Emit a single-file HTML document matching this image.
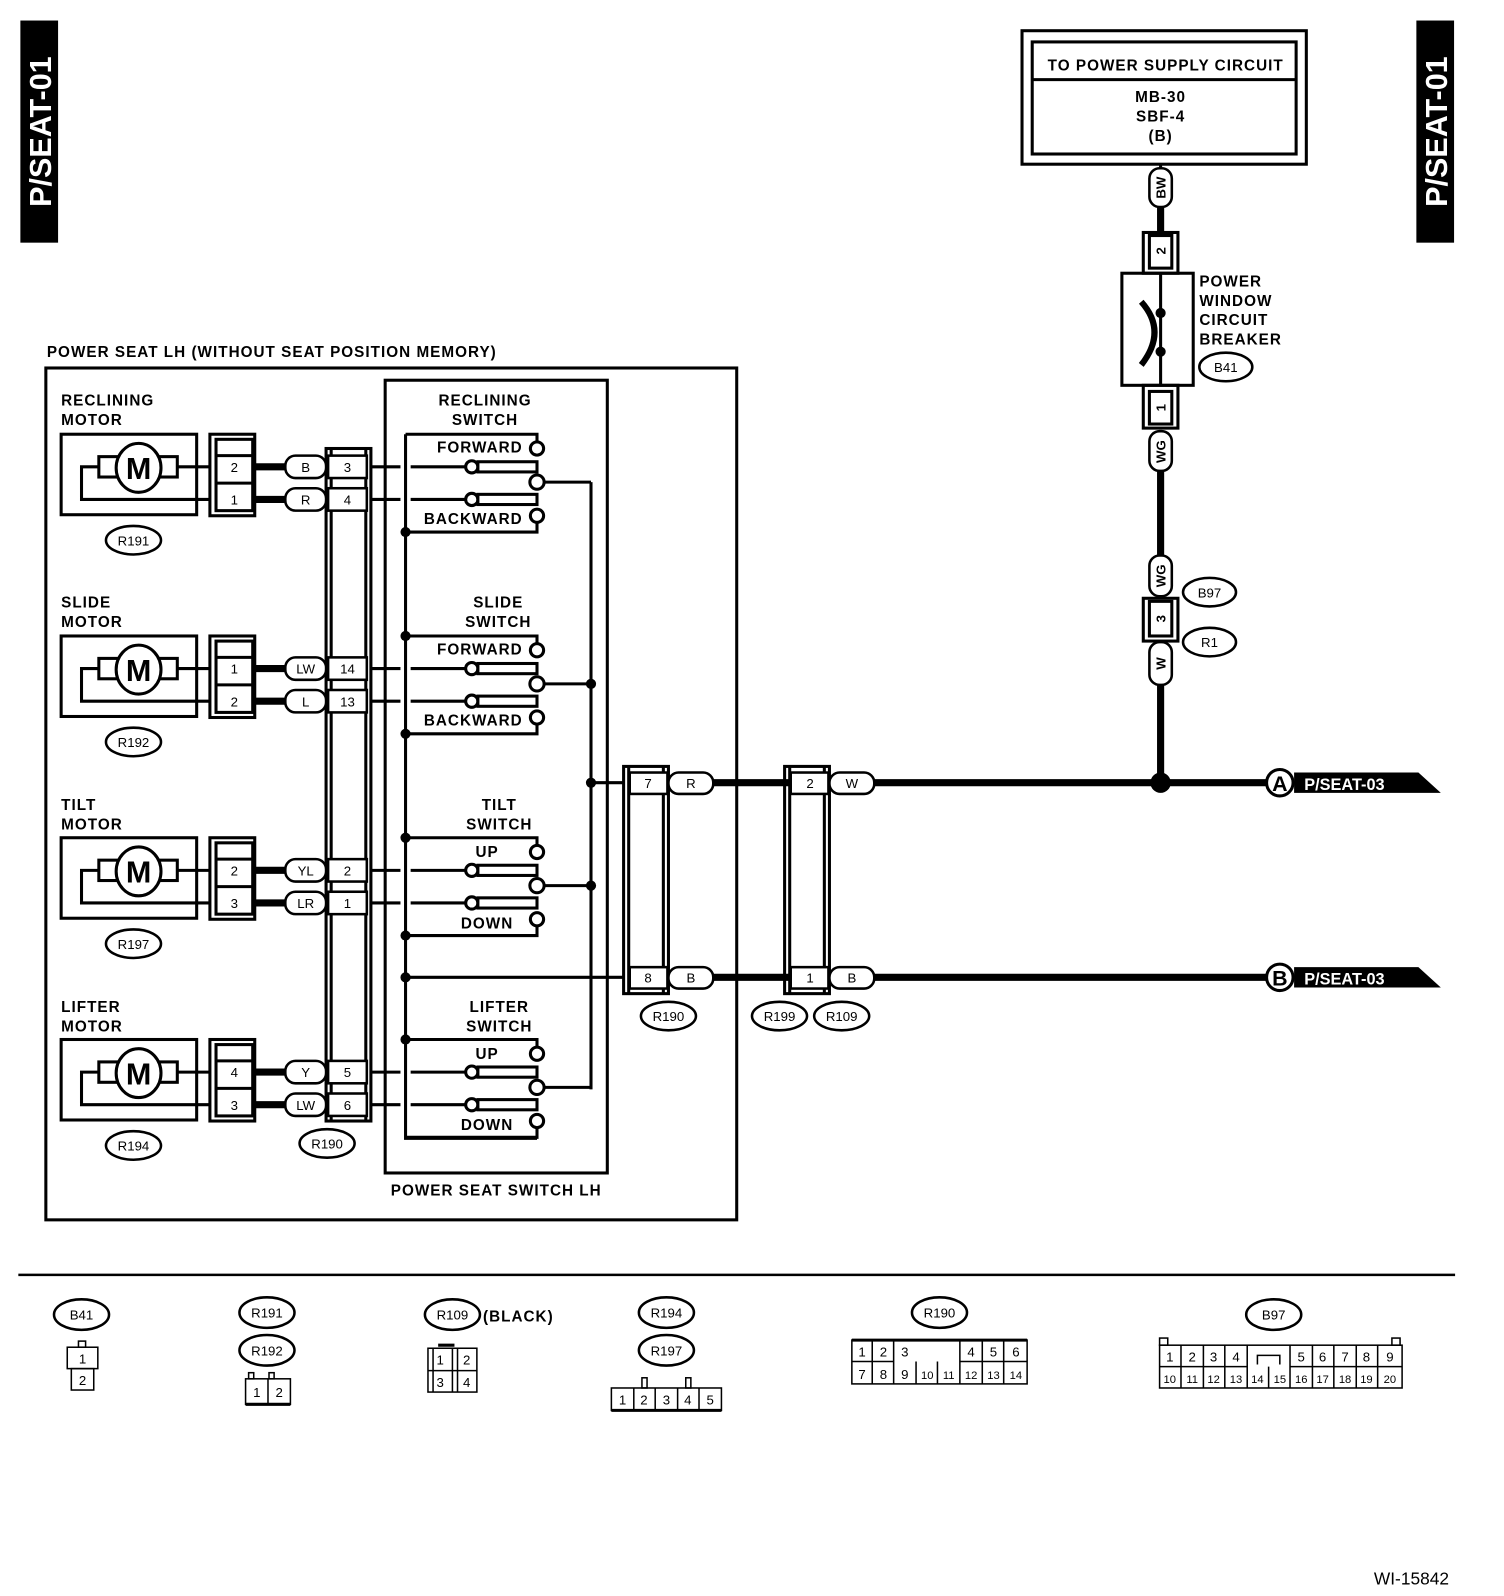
<!DOCTYPE html>
<html><head><meta charset="utf-8"><style>
html,body{margin:0;padding:0;background:#fff}
svg{display:block}
text{font-family:"Liberation Sans",sans-serif;font-weight:bold;font-size:15px;fill:#000;letter-spacing:1px}
text.s{font-size:13px;font-weight:normal;letter-spacing:0}
text.m{font-size:30px;letter-spacing:0}
text.t{font-size:11px;font-weight:normal;letter-spacing:0}
</style></head><body>
<svg width="1504" height="1596" viewBox="0 0 1476 1566" xmlns="http://www.w3.org/2000/svg">
<defs>
<g id="sw" fill="none" stroke="#000" stroke-width="3">
<path d="M398,426 H527 V433"/>
<circle cx="527" cy="440" r="6.5" fill="#fff"/>
<path d="M365,458 H393 M403,458 H457"/>
<circle cx="463" cy="458" r="6" fill="#fff"/>
<rect x="469" y="453" width="58" height="10" fill="#fff"/>
<circle cx="527" cy="473" r="7" fill="#fff"/>
<path d="M534,473 H580"/>
<path d="M365,490 H393 M403,490 H457"/>
<circle cx="463" cy="490" r="6" fill="#fff"/>
<rect x="469" y="485" width="58" height="10" fill="#fff"/>
<circle cx="527" cy="506" r="6.5" fill="#fff"/>
<path d="M527,513 V522 H398"/>
</g>
<g id="mot" fill="none" stroke="#000" stroke-width="3">
<rect x="60" y="426" width="133" height="79"/>
<rect x="97" y="448" width="20" height="20"/>
<rect x="156" y="448" width="18" height="20"/>
<path d="M174,458 H207 M97,458 H80 V490 H207"/>
<ellipse cx="136" cy="459" rx="22" ry="24" fill="#fff"/>
<rect x="206" y="426" width="44" height="80"/>
<rect x="212" y="431" width="36" height="70"/>
<path d="M212,447 H248 M212,474 H248"/>
<path d="M250,458 H282 M250,490 H282" stroke-width="7"/>
<rect x="280" y="447" width="40" height="22" rx="10" fill="#fff" stroke-width="2.5"/>
<rect x="280" y="479" width="40" height="22" rx="10" fill="#fff" stroke-width="2.5"/>
<rect x="322" y="447" width="38" height="22" fill="#fff" stroke-width="2.5"/>
<rect x="322" y="479" width="38" height="22" fill="#fff" stroke-width="2.5"/>
</g>
</defs>

<rect x="20" y="20" width="37" height="218" fill="#000"/>
<text transform="translate(50,129) rotate(-90)" text-anchor="middle" style="font-size:30px;fill:#fff;letter-spacing:0">P/SEAT-01</text>
<rect x="1390" y="20" width="37" height="218" fill="#000"/>
<text transform="translate(1420,129) rotate(-90)" text-anchor="middle" style="font-size:30px;fill:#fff;letter-spacing:0">P/SEAT-01</text>

<g fill="none" stroke="#000" stroke-width="3">
<rect x="1003" y="30" width="279" height="131"/>
<rect x="1013" y="41" width="259" height="110"/>
<path d="M1013,78 H1272"/>
</g>
<text x="1144" y="69" text-anchor="middle">TO POWER SUPPLY CIRCUIT</text>
<text x="1139" y="100" text-anchor="middle">MB-30</text>
<text x="1139" y="119" text-anchor="middle">SBF-4</text>
<text x="1139" y="138" text-anchor="middle">(B)</text>

<g fill="none" stroke="#000" stroke-width="3">
<path d="M1139,161 V166"/>
<rect x="1128" y="165" width="22" height="38" rx="10" fill="#fff" stroke-width="2.5"/>
<path d="M1139,203 V228" stroke-width="7"/>
<rect x="1122" y="228" width="34" height="40"/>
<rect x="1128" y="231" width="22" height="32"/>
<rect x="1101" y="268" width="70" height="110"/>
<path d="M1139,268 V378"/>
<rect x="1122" y="378" width="34" height="42"/>
<rect x="1128" y="384" width="22" height="32"/>
<rect x="1128" y="423" width="22" height="39" rx="10" fill="#fff" stroke-width="2.5"/>
<path d="M1139,462 V545" stroke-width="7"/>
<rect x="1128" y="545" width="22" height="40" rx="10" fill="#fff" stroke-width="2.5"/>
<rect x="1122" y="587" width="34" height="42"/>
<rect x="1128" y="590" width="22" height="34"/>
<rect x="1128" y="630" width="22" height="42" rx="10" fill="#fff" stroke-width="2.5"/>
<path d="M1139,672 V768" stroke-width="7"/>
</g>
<path d="M1120,296 Q1146,325 1120,358" fill="none" stroke="#000" stroke-width="6"/>
<circle cx="1139" cy="307" r="5"/><circle cx="1139" cy="345" r="5"/>
<text transform="translate(1144,184) rotate(-90)" text-anchor="middle" style="font-size:13px;letter-spacing:0">BW</text>
<text transform="translate(1144,246) rotate(-90)" text-anchor="middle" style="font-size:13px;letter-spacing:0">2</text>
<text transform="translate(1144,400) rotate(-90)" text-anchor="middle" style="font-size:13px;letter-spacing:0">1</text>
<text transform="translate(1144,443) rotate(-90)" text-anchor="middle" style="font-size:13px;letter-spacing:0">WG</text>
<text transform="translate(1144,565) rotate(-90)" text-anchor="middle" style="font-size:13px;letter-spacing:0">WG</text>
<text transform="translate(1144,607) rotate(-90)" text-anchor="middle" style="font-size:13px;letter-spacing:0">3</text>
<text transform="translate(1144,651) rotate(-90)" text-anchor="middle" style="font-size:13px;letter-spacing:0">W</text>
<text x="1177" y="281">POWER</text>
<text x="1177" y="300">WINDOW</text>
<text x="1177" y="319">CIRCUIT</text>
<text x="1177" y="338">BREAKER</text>
<g fill="#fff" stroke="#000" stroke-width="2.5">
<ellipse cx="1203" cy="360" rx="26" ry="14"/>
<ellipse cx="1187" cy="581" rx="26" ry="14"/>
<ellipse cx="1187" cy="630" rx="26" ry="14"/>
</g>
<text x="1203" y="365" text-anchor="middle" class="s">B41</text>
<text x="1187" y="586" text-anchor="middle" class="s">B97</text>
<text x="1187" y="635" text-anchor="middle" class="s">R1</text>

<text x="46" y="350">POWER SEAT LH (WITHOUT SEAT POSITION MEMORY)</text>
<g fill="none" stroke="#000" stroke-width="3">
<rect x="45" y="361" width="678" height="836"/>
<rect x="378" y="373" width="218" height="778"/>
<rect x="320" y="440" width="44" height="660"/>
<path d="M325,440 V1100 M359,440 V1100"/>
<path d="M398,426 V1117 H527 M580,473 V1069 M580,768 H612 M398,959 H612"/>
</g>
<text x="487" y="1173" text-anchor="middle">POWER SEAT SWITCH LH</text>

<use href="#sw"/>
<use href="#sw" transform="translate(0,198)"/>
<use href="#sw" transform="translate(0,396)"/>
<use href="#sw" transform="translate(0,594)"/>
<use href="#mot"/>
<use href="#mot" transform="translate(0,198)"/>
<use href="#mot" transform="translate(0,396)"/>
<use href="#mot" transform="translate(0,594)"/>

<g>
<circle cx="398" cy="522" r="5"/><circle cx="398" cy="624" r="5"/><circle cx="398" cy="720" r="5"/>
<circle cx="398" cy="822" r="5"/><circle cx="398" cy="918" r="5"/><circle cx="398" cy="959" r="5"/>
<circle cx="398" cy="1020" r="5"/>
<circle cx="580" cy="671" r="5"/><circle cx="580" cy="768" r="5"/><circle cx="580" cy="869" r="5"/>
</g>

<text x="476" y="398" text-anchor="middle">RECLINING</text><text x="476" y="417" text-anchor="middle">SWITCH</text>
<text x="513" y="444" text-anchor="end">FORWARD</text><text x="513" y="514" text-anchor="end">BACKWARD</text>
<text x="489" y="596" text-anchor="middle">SLIDE</text><text x="489" y="615" text-anchor="middle">SWITCH</text>
<text x="513" y="642" text-anchor="end">FORWARD</text><text x="513" y="712" text-anchor="end">BACKWARD</text>
<text x="490" y="795" text-anchor="middle">TILT</text><text x="490" y="814" text-anchor="middle">SWITCH</text>
<text x="478" y="841" text-anchor="middle">UP</text><text x="478" y="911" text-anchor="middle">DOWN</text>
<text x="490" y="993" text-anchor="middle">LIFTER</text><text x="490" y="1012" text-anchor="middle">SWITCH</text>
<text x="478" y="1039" text-anchor="middle">UP</text><text x="478" y="1109" text-anchor="middle">DOWN</text>

<text x="60" y="398">RECLINING</text><text x="60" y="417">MOTOR</text>
<text x="60" y="596">SLIDE</text><text x="60" y="615">MOTOR</text>
<text x="60" y="795">TILT</text><text x="60" y="814">MOTOR</text>
<text x="60" y="993">LIFTER</text><text x="60" y="1012">MOTOR</text>
<text x="136" y="470" text-anchor="middle" class="m">M</text>
<text x="136" y="668" text-anchor="middle" class="m">M</text>
<text x="136" y="866" text-anchor="middle" class="m">M</text>
<text x="136" y="1064" text-anchor="middle" class="m">M</text>
<g text-anchor="middle">
<text x="230" y="463" class="s">2</text><text x="230" y="495" class="s">1</text>
<text x="230" y="661" class="s">1</text><text x="230" y="693" class="s">2</text>
<text x="230" y="859" class="s">2</text><text x="230" y="891" class="s">3</text>
<text x="230" y="1057" class="s">4</text><text x="230" y="1089" class="s">3</text>
<text x="300" y="463" class="s">B</text><text x="300" y="495" class="s">R</text>
<text x="300" y="661" class="s">LW</text><text x="300" y="693" class="s">L</text>
<text x="300" y="859" class="s">YL</text><text x="300" y="891" class="s">LR</text>
<text x="300" y="1057" class="s">Y</text><text x="300" y="1089" class="s">LW</text>
<text x="341" y="463" class="s">3</text><text x="341" y="495" class="s">4</text>
<text x="341" y="661" class="s">14</text><text x="341" y="693" class="s">13</text>
<text x="341" y="859" class="s">2</text><text x="341" y="891" class="s">1</text>
<text x="341" y="1057" class="s">5</text><text x="341" y="1089" class="s">6</text>
</g>
<g fill="#fff" stroke="#000" stroke-width="2.5">
<ellipse cx="131" cy="530" rx="27" ry="14"/><ellipse cx="131" cy="728" rx="27" ry="14"/>
<ellipse cx="131" cy="926" rx="27" ry="14"/><ellipse cx="131" cy="1124" rx="27" ry="14"/>
<ellipse cx="321" cy="1122" rx="27" ry="14"/>
<ellipse cx="656" cy="997" rx="27" ry="14"/><ellipse cx="765" cy="997" rx="27" ry="14"/>
<ellipse cx="826" cy="997" rx="27" ry="14"/>
</g>
<text x="131" y="535" text-anchor="middle" class="s">R191</text>
<text x="131" y="733" text-anchor="middle" class="s">R192</text>
<text x="131" y="931" text-anchor="middle" class="s">R197</text>
<text x="131" y="1129" text-anchor="middle" class="s">R194</text>
<text x="321" y="1127" text-anchor="middle" class="s">R190</text>
<text x="656" y="1002" text-anchor="middle" class="s">R190</text>
<text x="765" y="1002" text-anchor="middle" class="s">R199</text>
<text x="826" y="1002" text-anchor="middle" class="s">R109</text>

<g fill="none" stroke="#000" stroke-width="3">
<rect x="612" y="752" width="44" height="223"/>
<path d="M617,752 V975 M651,752 V975"/>
<rect x="618" y="758" width="37" height="21" fill="#fff" stroke-width="2.5"/>
<rect x="618" y="949" width="37" height="21" fill="#fff" stroke-width="2.5"/>
<rect x="770" y="752" width="44" height="223"/>
<path d="M775,752 V975 M809,752 V975"/>
<rect x="776" y="758" width="37" height="21" fill="#fff" stroke-width="2.5"/>
<rect x="776" y="949" width="37" height="21" fill="#fff" stroke-width="2.5"/>
<path d="M700,768 H776 M700,959 H776 M858,768 H1243 M858,959 H1243" stroke-width="7"/>
<rect x="656" y="758" width="44" height="21" rx="10" fill="#fff" stroke-width="2.5"/>
<rect x="656" y="949" width="44" height="21" rx="10" fill="#fff" stroke-width="2.5"/>
<rect x="814" y="758" width="44" height="21" rx="10" fill="#fff" stroke-width="2.5"/>
<rect x="814" y="949" width="44" height="21" rx="10" fill="#fff" stroke-width="2.5"/>
<circle cx="1256" cy="768" r="13" fill="#fff" stroke-width="3"/>
<circle cx="1256" cy="959" r="13" fill="#fff" stroke-width="3"/>
</g>
<circle cx="1139" cy="768" r="10"/>
<text x="636" y="773" text-anchor="middle" class="s">7</text><text x="636" y="964" text-anchor="middle" class="s">8</text>
<text x="678" y="773" text-anchor="middle" class="s">R</text><text x="678" y="964" text-anchor="middle" class="s">B</text>
<text x="795" y="773" text-anchor="middle" class="s">2</text><text x="795" y="964" text-anchor="middle" class="s">1</text>
<text x="836" y="773" text-anchor="middle" class="s">W</text><text x="836" y="964" text-anchor="middle" class="s">B</text>
<text x="1256" y="776" text-anchor="middle" style="font-size:21px;letter-spacing:0">A</text>
<text x="1256" y="967" text-anchor="middle" style="font-size:21px;letter-spacing:0">B</text>
<polygon points="1270,758 1392,758 1414,778 1270,778"/>
<polygon points="1270,949 1392,949 1414,969 1270,969"/>
<text x="1280" y="775" style="fill:#fff;font-size:16px;letter-spacing:0">P/SEAT-03</text>
<text x="1280" y="966" style="fill:#fff;font-size:16px;letter-spacing:0">P/SEAT-03</text>

<path d="M18,1251 H1428" stroke="#000" stroke-width="2.5"/>
<g fill="#fff" stroke="#000" stroke-width="2.5">
<ellipse cx="80" cy="1290" rx="27" ry="15"/>
<ellipse cx="262" cy="1288" rx="27" ry="15"/><ellipse cx="262" cy="1325" rx="27" ry="15"/>
<ellipse cx="444" cy="1290" rx="27" ry="15"/>
<ellipse cx="654" cy="1288" rx="27" ry="15"/><ellipse cx="654" cy="1325" rx="27" ry="15"/>
<ellipse cx="922" cy="1288" rx="27" ry="15"/>
<ellipse cx="1250" cy="1290" rx="27" ry="15"/>
</g>
<g text-anchor="middle">
<text x="80" y="1295" class="s">B41</text><text x="262" y="1293" class="s">R191</text><text x="262" y="1330" class="s">R192</text>
<text x="444" y="1295" class="s">R109</text><text x="654" y="1293" class="s">R194</text><text x="654" y="1330" class="s">R197</text>
<text x="922" y="1293" class="s">R190</text><text x="1250" y="1295" class="s">B97</text>
</g>
<text x="474" y="1297">(BLACK)</text>
<g fill="none" stroke="#000" stroke-width="1.5">
<rect x="77" y="1316" width="7" height="6"/><rect x="66" y="1322" width="30" height="21"/><rect x="70" y="1343" width="22" height="21"/>
<rect x="244" y="1347" width="5" height="6"/><rect x="264" y="1347" width="5" height="6"/>
<rect x="241" y="1353" width="44" height="25"/><path d="M263,1353 V1378"/><path d="M241,1378 H285" stroke-width="3"/>
<path d="M430,1320 H446" stroke-width="3"/>
<rect x="420" y="1323" width="48" height="43"/><path d="M444,1323 V1366 M420,1345 H468 M425,1323 V1366 M449,1323 V1366"/>
<rect x="630" y="1352" width="5" height="10"/><rect x="673" y="1352" width="5" height="10"/>
<rect x="600" y="1362" width="108" height="22"/><path d="M622,1362 V1384 M643,1362 V1384 M665,1362 V1384 M686,1362 V1384"/><path d="M600,1384 H708" stroke-width="3"/>
<rect x="836" y="1315" width="172" height="43"/><path d="M836,1336 H877 M942,1336 H1008 M856,1315 V1358 M877,1315 V1358 M942,1315 V1358 M964,1315 V1358 M985,1315 V1358 M899,1336 V1358 M920,1336 V1358" />
<path d="M836,1315 H1008" stroke-width="3"/>
<rect x="1138" y="1313" width="8" height="7"/><rect x="1366" y="1313" width="8" height="7"/>
<rect x="1138" y="1320" width="238" height="42"/><path d="M1138,1341 H1224 M1266,1341 H1376 M1159,1320 V1362 M1181,1320 V1362 M1202,1320 V1362 M1224,1320 V1362 M1245,1341 V1362 M1266,1320 V1362 M1288,1320 V1362 M1309,1320 V1362 M1331,1320 V1362 M1352,1320 V1362"/>
<path d="M1234,1339 V1330 H1256 V1339"/>
</g>
<g text-anchor="middle">
<text x="81" y="1338" class="s">1</text><text x="81" y="1359" class="s">2</text>
<text x="252" y="1371" class="s">1</text><text x="274" y="1371" class="s">2</text>
<text x="432" y="1339" class="s">1</text><text x="458" y="1339" class="s">2</text><text x="432" y="1361" class="s">3</text><text x="458" y="1361" class="s">4</text>
<text x="611" y="1378" class="s">1</text><text x="632" y="1378" class="s">2</text><text x="654" y="1378" class="s">3</text><text x="675" y="1378" class="s">4</text><text x="697" y="1378" class="s">5</text>
<text x="846" y="1331" class="s">1</text><text x="867" y="1331" class="s">2</text><text x="888" y="1331" class="s">3</text><text x="953" y="1331" class="s">4</text><text x="975" y="1331" class="s">5</text><text x="997" y="1331" class="s">6</text>
<text x="846" y="1353" class="s">7</text><text x="867" y="1353" class="s">8</text><text x="888" y="1353" class="s">9</text><text x="910" y="1353" class="t">10</text><text x="931" y="1353" class="t">11</text><text x="953" y="1353" class="t">12</text><text x="975" y="1353" class="t">13</text><text x="997" y="1353" class="t">14</text>
<text x="1148" y="1336" class="s">1</text><text x="1170" y="1336" class="s">2</text><text x="1191" y="1336" class="s">3</text><text x="1213" y="1336" class="s">4</text>
<text x="1277" y="1336" class="s">5</text><text x="1298" y="1336" class="s">6</text><text x="1320" y="1336" class="s">7</text><text x="1341" y="1336" class="s">8</text><text x="1364" y="1336" class="s">9</text>
<text x="1148" y="1357" class="t">10</text><text x="1170" y="1357" class="t">11</text><text x="1191" y="1357" class="t">12</text><text x="1213" y="1357" class="t">13</text><text x="1234" y="1357" class="t">14</text><text x="1256" y="1357" class="t">15</text><text x="1277" y="1357" class="t">16</text><text x="1298" y="1357" class="t">17</text><text x="1320" y="1357" class="t">18</text><text x="1341" y="1357" class="t">19</text><text x="1364" y="1357" class="t">20</text>
</g>
<text x="1422" y="1555" text-anchor="end" style="font-size:17px;font-weight:normal;letter-spacing:0">WI-15842</text>
</svg>
</body></html>
